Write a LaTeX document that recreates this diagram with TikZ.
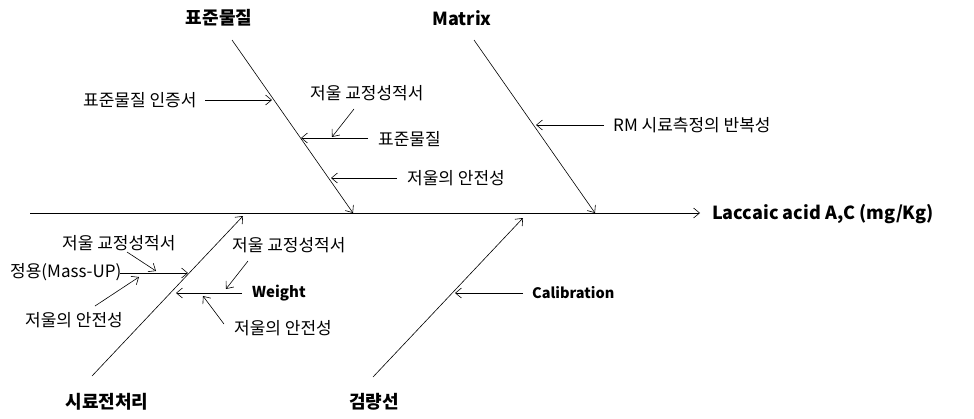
\documentclass[tikz,border=0pt]{standalone}
\usepackage{fontspec}
\setmainfont{Noto Sans CJK KR}
\usetikzlibrary{arrows.meta}
\tikzset{
  lbl/.style={font=\fontsize{17}{19}\selectfont, inner sep=0pt},
  blbl/.style={font=\fontsize{18}{21}\selectfont\bfseries, inner sep=0pt},
  arr/.style={-{Straight Barb[length=6pt,width=10pt]}, line width=0.6pt},
}
\begin{document}
\begin{tikzpicture}[x=1pt,y=-1pt]
\useasboundingbox (0,0) rectangle (974,418);
% spine
\coordinate (sp0) at (30,213);
\coordinate (sp1) at (700,213);
\node[blbl, anchor=west] (effect) at (712,214) {Laccaic acid A,C (mg/Kg)};
\draw[arr] (sp0) -- (sp1);
% main bones
\coordinate (b1s) at (232,40);  \coordinate (b1e) at (353,213);
\coordinate (b2s) at (474,40);  \coordinate (b2e) at (595,213);
\coordinate (b3s) at (92,376);  \coordinate (b3e) at (243,216);
\coordinate (b4s) at (373,377); \coordinate (b4e) at (523,218);
\draw[arr] (b1s) -- (b1e);
\draw[arr] (b2s) -- (b2e);
\draw[arr] (b3s) -- (b3e);
\draw[arr] (b4s) -- (b4e);
\node[blbl] (c1) at (219,18) {표준물질};
\node[blbl] (c2) at (462,18) {Matrix};
\node[blbl] (c3) at (107,402) {시료전처리};
\node[blbl] (c4) at (374,402) {검량선};
% 표준물질 branch
\node[lbl, anchor=west] (t1) at (83,100) {표준물질 인증서};
\coordinate (t1a) at (205,100); \coordinate (t1b) at (272,100);
\draw[arr] (t1a) -- (t1b);
\node[lbl, anchor=west] (t2) at (378,139) {표준물질};
\coordinate (t2a) at (368,138); \coordinate (t2b) at (301,138);
\draw[arr] (t2a) -- (t2b);
\node[lbl, anchor=west] (t3) at (310,93) {저울 교정성적서};
\coordinate (t3a) at (354,109); \coordinate (t3b) at (332,137);
\draw[arr] (t3a) -- (t3b);
\node[lbl, anchor=west] (t4) at (407,178) {저울의 안전성};
\coordinate (t4a) at (397,178); \coordinate (t4b) at (331,178);
\draw[arr] (t4a) -- (t4b);
% Matrix branch
\node[lbl, anchor=west] (m1) at (613,125) {RM 시료측정의 반복성};
\coordinate (m1a) at (604,125); \coordinate (m1b) at (536,125);
\draw[arr] (m1a) -- (m1b);
% 시료전처리 branch
\node[lbl, anchor=west] (s1) at (10,272) {정용(Mass-UP)};
\coordinate (s1a) at (120,273); \coordinate (s1b) at (188,273);
\draw[arr] (s1a) -- (s1b);
\node[lbl, anchor=west] (s2) at (62,243) {저울 교정성적서};
\coordinate (s2a) at (127,252); \coordinate (s2b) at (156,271);
\draw[arr] (s2a) -- (s2b);
\node[lbl, anchor=west] (s3) at (25,320) {저울의 안전성};
\coordinate (s3a) at (95,306); \coordinate (s3b) at (139,277);
\draw[arr] (s3a) -- (s3b);
\node[blbl, anchor=west, font=\fontsize{15}{18}\selectfont\bfseries] (s4) at (252,293) {Weight};
\coordinate (s4a) at (242,293); \coordinate (s4b) at (176,293);
\draw[arr] (s4a) -- (s4b);
\node[lbl, anchor=west] (s5) at (232,245) {저울 교정성적서};
\coordinate (s5a) at (248,261); \coordinate (s5b) at (226,289);
\draw[arr] (s5a) -- (s5b);
\node[lbl, anchor=west] (s6) at (234,328) {저울의 안전성};
\coordinate (s6a) at (224,324); \coordinate (s6b) at (203,296);
\draw[arr] (s6a) -- (s6b);
% 검량선 branch
\node[blbl, anchor=west, font=\fontsize{14.5}{18}\selectfont\bfseries] (k1) at (532,293) {Calibration};
\coordinate (k1a) at (523,293); \coordinate (k1b) at (455,293);
\draw[arr] (k1a) -- (k1b);
\end{tikzpicture}
\end{document}
